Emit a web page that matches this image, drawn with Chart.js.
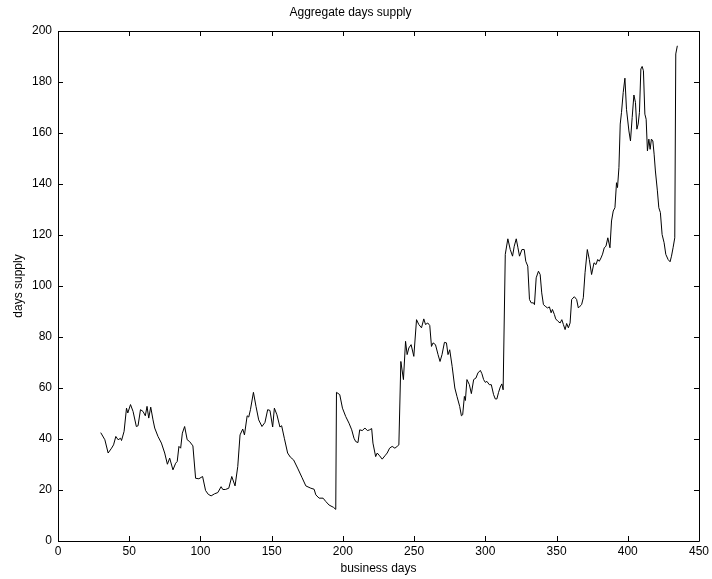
<!DOCTYPE html>
<html>
<head>
<meta charset="utf-8">
<script src="https://cdn.jsdelivr.net/npm/chart.js@4/dist/chart.umd.min.js"></script>
<style>
  html, body { margin: 0; padding: 0; background: #fff; }
  #wrap { width: 712px; height: 579px; }
</style>
</head>
<body>
<div id="wrap"><canvas id="c" width="712" height="579"></canvas></div>
<script>
// Business-day index of each observation
const days = [
  30, 32.9, 35.2, 37.6, 39, 40.6, 42.2, 43.9, 44.6, 46.4, 48.1, 49, 50.9, 52.7, 55, 56.2, 57.9, 59.7,
  61.3, 62.5, 63.7, 65.1, 66.7, 67.9, 70.2, 72.6, 74.9, 76.8, 78.4, 80.7, 82.6, 83.7, 84.9, 86.1,
  87.3, 88.9, 90.7, 92.4, 94.7, 96.6, 98.9, 101.5, 103.6, 105.5, 107.5, 109.9, 112.2, 114.5, 115.7,
  117.5, 119.9, 122, 124.3, 126.2, 127.8, 129.7, 130.9, 132.8, 133.9, 135.1, 137.2, 139, 140.9,
  143.2, 145.3, 147.2, 148.8, 150.7, 151.9, 153.7, 155.8, 157, 158.9, 161.2, 163.1, 165.4, 168.2,
  171.2, 174, 177.5, 179.8, 181, 183.3, 186.1, 188, 190.3, 193.4, 195, 195.5, 197.8, 199.7, 202,
  204.3, 206.2, 207.8, 209, 210.6, 211.8, 213.6, 215.5, 217.2, 218.8, 220.2, 221.1, 223, 224.1,
  225.8, 227.6, 229.5, 231.1, 232.8, 234.6, 236.5, 238.1, 239.3, 240.7, 242.5, 244, 245.1, 246.3,
  247.9, 249.8, 251.7, 253.3, 255.2, 256.8, 258, 259.6, 261, 262.2, 263.3, 265, 266.8, 268.2,
  269.6, 271.3, 272.7, 273.8, 275, 276.7, 278.6, 280.1, 282, 283.2, 284.1, 285.3, 286, 287.1,
  288.8, 290.2, 291.8, 293.4, 294.8, 296.5, 297.6, 298.8, 300, 301.1, 302.8, 304.2, 305.8, 307,
  308.1, 309.3, 310.5, 311.6, 312.5, 314, 315.8, 317.5, 319.1, 320.3, 321.7, 322.9, 324, 325.7,
  327.3, 328.4, 329.8, 331, 332.2, 333.8, 334.5, 335.7, 337.3, 338.5, 339.6, 340.8, 342, 343.6,
  345, 346.2, 347.1, 348.5, 349.4, 350.9, 352.5, 353.7, 354.8, 356, 357.1, 358.3, 359.5, 360.6,
  362.5, 364.1, 365.3, 366.5, 367.6, 368.8, 370, 371.6, 373, 374.6, 376.3, 377.7, 378.9, 380,
  381.2, 382.3, 383.5, 384.7, 386, 387.5, 388.6, 389.8, 391, 392.1, 392.8, 393.8, 394.7, 395.6,
  396.8, 398, 399.1, 400.8, 401.9, 403.1, 404.3, 405.4, 406.4, 407.3, 408.2, 409.2, 410.1, 411,
  412, 412.9, 413.8, 414.8, 415.7, 416.6, 417.6, 418.5, 419.4, 420.8, 421.8, 422.9, 424.1, 425.5,
  426.7, 428.3, 429.7, 430.7, 431.8, 433, 433.7, 434.8
];

// Aggregate days supply on each of those days
const supply = [
  42.5, 39.7, 34.5, 36.4, 37.7, 41, 39.7, 40.3, 39.4, 43, 52.1, 50.2, 53.5, 50.8, 44.9, 45.2, 51.5, 50.8,
  49.1, 52.8, 48.2, 52.5, 47.5, 44.3, 41, 38.4, 34.5, 30.1, 32.5, 27.9, 30.5, 31.2, 37.1, 36.4,
  42.3, 44.9, 39.7, 39, 37.3, 24.6, 24.4, 25.3, 19.8, 18.3, 17.7, 18.5, 19, 21.3, 20.2,
  20.2, 20.7, 25.3, 21.6, 29.2, 41.6, 43.9, 41.6, 49.1, 48.6, 51.5, 58.3, 52.8, 47.5,
  44.9, 46.5, 51.5, 51.2, 44.7, 52.1, 49.5, 44.7, 45.2, 40.3, 34.5, 32.9, 31.8, 28.6,
  25, 21.6, 20.7, 20.3, 18.1, 16.8, 16.8, 15.5, 14.1, 13.2, 12.4, 58.3, 57.4, 52.1, 48.8,
  46.2, 43.6, 40.3, 39, 38.6, 43.6, 43.3, 44.3, 43.3, 43.6, 44.1, 38.4, 33.1, 34.5,
  33.4, 32.1, 33.4, 34.5, 36.4, 37.1, 36.4, 37.1, 37.7, 70.4, 63.3, 78.3, 73.1, 75.7,
  77, 72.4, 86.8, 84.9, 83.6, 87.1, 84.9, 85.5, 84.5, 76.3, 77.7, 77, 73.1, 70.4,
  73.1, 77.9, 77.7, 73.1, 75, 68.5, 60, 56.7, 52.8, 49.1, 49.5, 56.7, 55.1, 63.3,
  61.3, 57.8, 63.3, 63.9, 65.9, 66.9, 65.6, 63.3, 62.2, 62.6, 61.3, 61.3, 57.4, 55.7,
  55.7, 58.3, 60.4, 61.6, 59.3, 112.4, 118.5, 114.3, 111.7, 115.6, 118.5, 115, 111.7, 114.3,
  114.3, 109.7, 107.8, 94.7, 93.4, 93.4, 92.7, 103.2, 105.8, 104.5, 97.3, 92.7, 92.1, 91.4,
  91.8, 89.5, 90.8, 88.8, 87.1, 86.2, 85.5, 86.8, 84.9, 82.9, 85.3, 83.6, 85.5, 94.7,
  95.8, 94.7, 91.4, 92.1, 92.7, 95.4, 105.2, 114.3, 110.4, 104.5, 109.1, 108.4, 110.4, 109.7,
  111, 112.5, 115, 115.6, 118.9, 115, 125.5, 129.4, 130.7, 140.5, 138.6, 146.4, 163.5, 168.1,
  175.9, 181.5, 169.3, 160.8, 156.9, 166.1, 174.9, 172, 161.5, 163.5, 168.1, 185.1, 186.1, 184.4,
  167.4, 165.4, 153, 157.6, 153.6, 157.6, 156.9, 151.7, 145.1, 137.3, 130.7, 128.8, 120.2, 117,
  112.4, 110.4, 109.5, 111.7, 115, 118.9, 191, 194.2
];

// Axis ranges and tick spacing
const xTicks = [0, 50, 100, 150, 200, 250, 300, 350, 400, 450];
const yTicks = [0, 20, 40, 60, 80, 100, 120, 140, 160, 180, 200];

const points = days.map((d, i) => ({ x: d, y: supply[i] }));

const FONT = { family: '"Liberation Sans", Arial, Helvetica, sans-serif', size: 12 };
const TICK_LEN = 5;

// Frame around the plot area with inward tick marks on all four sides
const boxTicks = {
  id: 'boxTicks',
  afterDraw(chart) {
    const { ctx, chartArea: a, scales: { x, y } } = chart;
    ctx.save();
    ctx.strokeStyle = '#000';
    ctx.lineWidth = 1;
    ctx.beginPath();
    ctx.rect(Math.round(a.left) + 0.5, Math.round(a.top) + 0.5,
             Math.round(a.right - a.left), Math.round(a.bottom - a.top));
    ctx.stroke();
    ctx.beginPath();
    xTicks.forEach(v => {
      const px = Math.round(x.getPixelForValue(v)) + 0.5;
      ctx.moveTo(px, a.bottom); ctx.lineTo(px, a.bottom - TICK_LEN);
      ctx.moveTo(px, a.top); ctx.lineTo(px, a.top + TICK_LEN);
    });
    yTicks.forEach(v => {
      const py = Math.round(y.getPixelForValue(v)) + 0.5;
      ctx.moveTo(a.left, py); ctx.lineTo(a.left + TICK_LEN, py);
      ctx.moveTo(a.right, py); ctx.lineTo(a.right - TICK_LEN, py);
    });
    ctx.stroke();
    ctx.restore();
  }
};

new Chart(document.getElementById('c'), {
  type: 'line',
  data: {
    datasets: [{
      data: points,
      borderColor: '#000',
      borderWidth: 1,
      pointRadius: 0,
      tension: 0,
      fill: false
    }]
  },
  options: {
    responsive: false,
    animation: false,
    devicePixelRatio: 1,
    layout: { padding: { left: 0, right: 11, top: 0, bottom: 0 } },
    plugins: {
      legend: { display: false },
      tooltip: { enabled: false },
      title: {
        display: true,
        text: 'Aggregate days supply',
        color: '#000',
        font: { ...FONT, weight: 'normal' },
        padding: { top: 5, bottom: 11.6 }
      }
    },
    scales: {
      x: {
        type: 'linear',
        min: 0, max: 450,
        afterFit(s) { s.height = 38; },
        afterBuildTicks(s) { s.ticks = xTicks.map(v => ({ value: v })); },
        grid: { display: false, drawTicks: false },
        border: { display: false },
        ticks: { color: '#000', font: FONT, padding: 3, maxRotation: 0, autoSkip: false },
        title: { display: true, text: 'business days', color: '#000', font: FONT, padding: { top: 0, bottom: 3 } }
      },
      y: {
        type: 'linear',
        min: 0, max: 200,
        afterFit(s) { s.width = 58; },
        afterBuildTicks(s) { s.ticks = yTicks.map(v => ({ value: v })); },
        grid: { display: false, drawTicks: false },
        border: { display: false },
        ticks: { color: '#000', font: FONT, padding: 6, autoSkip: false },
        title: { display: true, text: 'days supply', color: '#000', font: FONT, padding: { top: 11, bottom: 0 } }
      }
    }
  },
  plugins: [boxTicks]
});
</script>
</body>
</html>
